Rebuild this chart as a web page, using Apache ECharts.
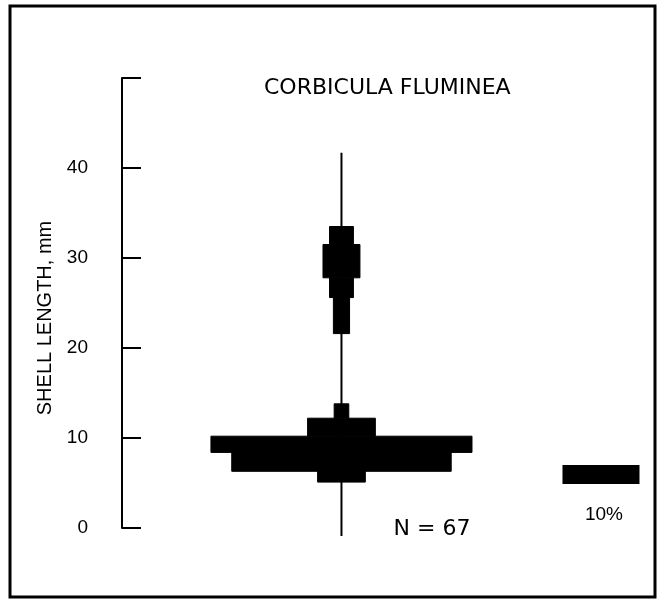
<!DOCTYPE html>
<html>
<head>
<meta charset="utf-8">
<script src="https://cdn.jsdelivr.net/npm/echarts@6/dist/echarts.min.js"></script>
<style>
html,body{margin:0;padding:0;background:#fff;}
#chart{width:662px;height:607px;}
</style>
</head>
<body>
<div id="chart"></div>
<script>
// Length-frequency kite: each bin = [low mm, high mm, percent of sample]
const binLow  = [5.1, 6.3, 8.4, 10.2, 12.2, 21.6, 25.6, 27.8, 31.5];
const binHigh = [6.3, 8.4, 10.2, 12.2, 13.8, 25.6, 27.8, 31.5, 33.5];
const binPct  = [6.2, 28.5, 33.9, 8.8, 1.9, 2.1, 3.1, 4.8, 3.1];
const centerLineRange = [-0.9, 41.7];
const scaleBarPct = 10;
const scaleBarX = [28.7, 38.7];
const scaleBarY = [4.9, 7.0];
const yTicks = [0, 10, 20, 30, 40];
const titleText = 'CORBICULA FLUMINEA';
const yName = 'SHELL LENGTH, mm';
const nText = 'N = 67';

const chart = echarts.init(document.getElementById('chart'));
const FONT = "'Liberation Sans', Arial, sans-serif";
const WIDE = "'DejaVu Sans', 'Liberation Sans', sans-serif";

const kiteData = binPct.map((p, i) => [p, binLow[i], binHigh[i]]);

chart.setOption({
  animation: false,
  backgroundColor: '#fff',
  title: {
    text: titleText,
    left: 259, top: 72,
    textStyle: {fontFamily: WIDE, fontSize: 22, fontWeight: 'normal', color: '#000'}
  },
  grid: {left: 122, top: 78, width: 527.5, height: 450},
  xAxis: {type: 'value', min: -28.5, max: 40, show: false},
  yAxis: {
    type: 'value', min: 0, max: 50, interval: 10,
    axisLine: {show: true, onZero: false, lineStyle: {color: '#000', width: 2}},
    axisTick: {show: true, inside: true, length: 19, lineStyle: {color: '#000', width: 2}},
    splitLine: {show: false},
    axisLabel: {
      margin: 34, color: '#000', fontFamily: FONT, fontSize: 19,
      formatter: v => (yTicks.indexOf(v) >= 0 ? String(v) : '')
    }
  },
  graphic: [
    {type: 'rect', shape: {x: 10, y: 6, width: 645, height: 591},
     style: {fill: null, stroke: '#000', lineWidth: 3}, silent: true},
    {type: 'text', x: 45, y: 318, rotation: Math.PI / 2,
     style: {text: yName, fontFamily: FONT, fontSize: 20, fill: '#000',
             align: 'center', verticalAlign: 'middle'}},
    {type: 'text', x: 432, y: 529,
     style: {text: nText, fontFamily: WIDE, fontSize: 22, fill: '#000',
             align: 'center', verticalAlign: 'middle'}}
  ],
  series: [
    {
      type: 'custom',
      data: [centerLineRange],
      renderItem: (params, api) => {
        const a = api.coord([0, api.value(0)]);
        const b = api.coord([0, api.value(1)]);
        return {type: 'line', shape: {x1: a[0], y1: a[1], x2: b[0], y2: b[1]},
                style: {stroke: '#000', lineWidth: 2}};
      }
    },
    {
      type: 'custom',
      data: kiteData,
      renderItem: (params, api) => {
        const p = api.value(0), lo = api.value(1), hi = api.value(2);
        const tl = api.coord([-p / 2, hi]);
        const br = api.coord([p / 2, lo]);
        return {type: 'rect', shape: {x: tl[0], y: tl[1], width: br[0] - tl[0], height: br[1] - tl[1]},
                style: {fill: '#000', stroke: '#000', lineWidth: 1}};
      }
    },
    {
      type: 'custom',
      data: [[scaleBarX[0], scaleBarX[1], scaleBarY[0], scaleBarY[1], scaleBarPct]],
      renderItem: (params, api) => {
        const tl = api.coord([api.value(0), api.value(3)]);
        const br = api.coord([api.value(1), api.value(2)]);
        const lbl = api.coord([(api.value(0) + api.value(1)) / 2, 1.45]);
        return {type: 'group', children: [
          {type: 'rect', shape: {x: tl[0], y: tl[1], width: br[0] - tl[0], height: br[1] - tl[1]},
           style: {fill: '#000'}},
          {type: 'text', x: lbl[0] + 3, y: lbl[1],
           style: {text: api.value(4) + '%', fontFamily: FONT, fontSize: 19, fill: '#000',
                   align: 'center', verticalAlign: 'middle'}}
        ]};
      }
    }
  ]
});
</script>
</body>
</html>
